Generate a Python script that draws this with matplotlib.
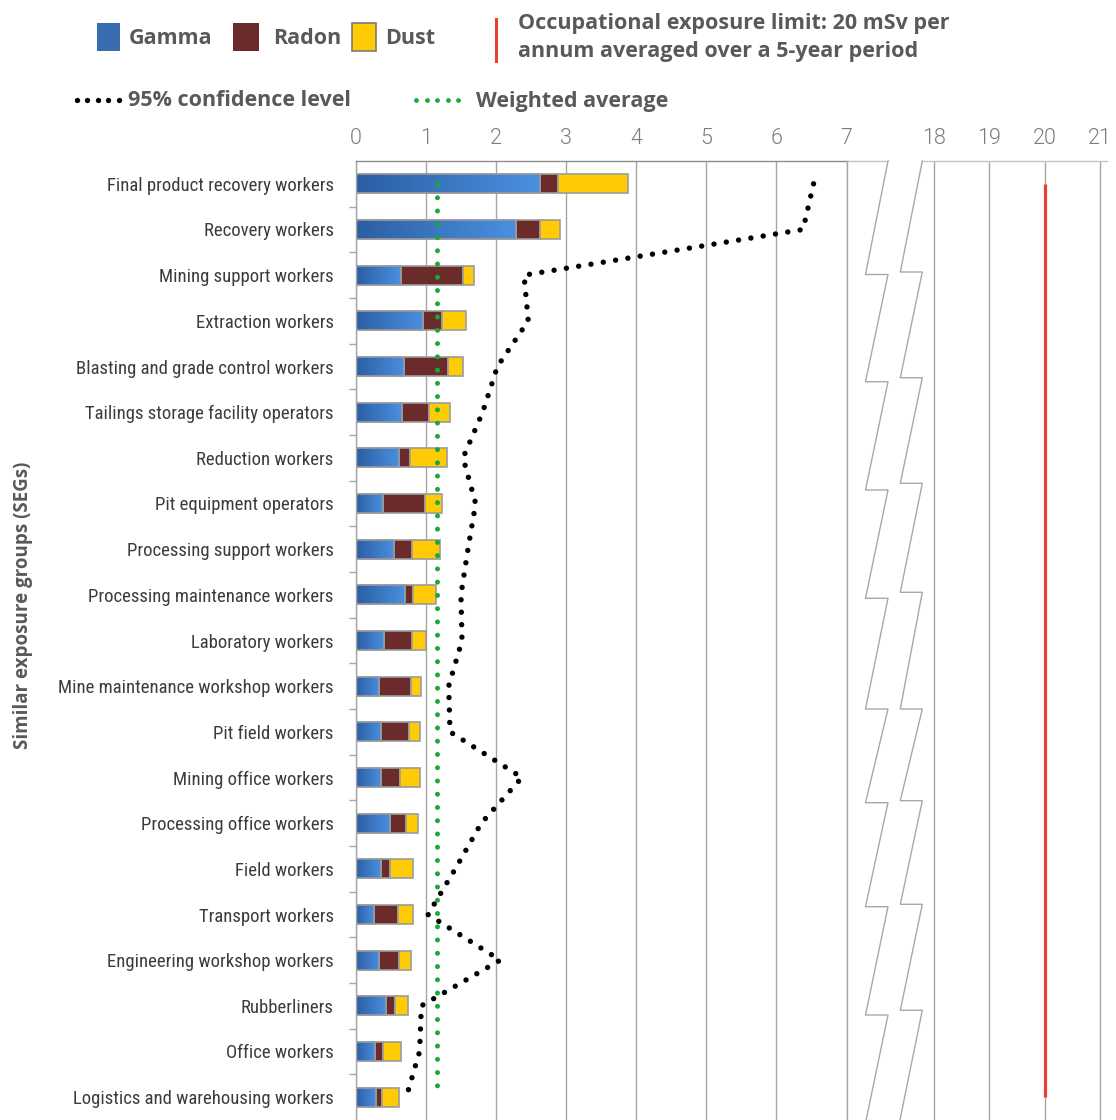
import numpy as np
import matplotlib
matplotlib.use("Agg")
import matplotlib.pyplot as plt
from matplotlib.lines import Line2D
from matplotlib.patches import Rectangle
from matplotlib.colors import LinearSegmentedColormap
from matplotlib import font_manager

plt.rcParams['font.family'] = ['Open Sans', 'DejaVu Sans']

# ---------------- data ----------------
categories = [
    "Final product recovery workers", "Recovery workers", "Mining support workers",
    "Extraction workers", "Blasting and grade control workers",
    "Tailings storage facility operators", "Reduction workers", "Pit equipment operators",
    "Processing support workers", "Processing maintenance workers", "Laboratory workers",
    "Mine maintenance workshop workers", "Pit field workers", "Mining office workers",
    "Processing office workers", "Field workers", "Transport workers",
    "Engineering workshop workers", "Rubberliners", "Office workers",
    "Logistics and warehousing workers",
]
gamma = [2.63, 2.28, 0.64, 0.955, 0.69, 0.655, 0.62, 0.384, 0.545, 0.70, 0.407,
         0.336, 0.364, 0.36, 0.49, 0.355, 0.26, 0.336, 0.436, 0.28, 0.29]
radon = [0.26, 0.35, 0.89, 0.27, 0.62, 0.385, 0.16, 0.60, 0.25, 0.12, 0.40,
         0.45, 0.40, 0.27, 0.22, 0.13, 0.34, 0.28, 0.12, 0.11, 0.09]
dust = [1.00, 0.29, 0.15, 0.35, 0.22, 0.30, 0.52, 0.25, 0.40, 0.33, 0.19,
        0.14, 0.15, 0.28, 0.18, 0.33, 0.21, 0.17, 0.19, 0.26, 0.24]
conf95 = [6.53, 6.38, 2.40, 2.46, 2.02, 1.81, 1.53, 1.71, 1.60, 1.50, 1.515,
          1.325, 1.344, 2.37, 1.79, 1.42, 1.03, 2.06, 0.935, 0.91, 0.72]
weighted_avg = 1.16
exposure_limit = 20
left_ticks = [0, 1, 2, 3, 4, 5, 6, 7]
right_ticks = [18, 19, 20, 21]

# ---------------- styles ----------------
W, H = 1116, 1120
C_GAMMA = '#3a6db0'
C_RADON = '#6b2b2b'
C_DUST = '#ffcb05'
C_EDGE = '#9c9c9c'
C_GRID = '#a6a6a6'
C_TEXT = '#595959'
C_RED = '#e8412f'
C_GREEN = '#1aa83a'

names = {}
for f in font_manager.fontManager.ttflist:
    names.setdefault(f.name, set()).add((str(f.stretch), f.weight))
label_family, label_stretch = ['DejaVu Sans'], 'normal'
for cand in ['Roboto Condensed', 'Liberation Sans Narrow', 'Open Sans Condensed',
             'Noto Sans Condensed', 'Arial Narrow']:
    if cand in names:
        label_family = [cand, 'DejaVu Sans']
        break
else:
    label_family = ['Liberation Sans', 'DejaVu Sans']

# light font for the numeric tick labels
tick_family, tick_weight = ['Lato', 'DejaVu Sans'], 'normal'
if 'Roboto' in names and any(w == 300 for _, w in names['Roboto']):
    tick_family, tick_weight = ['Roboto', 'DejaVu Sans'], 300

def fx(px):
    return px / W

def fy(py):
    return 1 - py / H

fig = plt.figure(figsize=(W / 100, H / 100), dpi=100)

n = len(categories)
y = np.arange(n)

ax = fig.add_axes([fx(355.8), 0, fx(846.5) - fx(355.8), fy(161)])
ax2 = fig.add_axes([fx(922), 0, fx(1107) - fx(922), fy(161)])

bh = 0.42
gamma_a = np.array(gamma)
radon_a = np.array(radon)
dust_a = np.array(dust)

b1 = ax.barh(y, gamma_a, height=bh, color=C_GAMMA, edgecolor=C_EDGE, lw=1.2, zorder=2)
ax.barh(y, radon_a, left=gamma_a, height=bh, color=C_RADON, edgecolor=C_EDGE, lw=1.2, zorder=2)
ax.barh(y, dust_a, left=gamma_a + radon_a, height=bh, color=C_DUST, edgecolor=C_EDGE, lw=1.2, zorder=2)

cmap = LinearSegmentedColormap.from_list('g', ['#2c5fa4', '#4a8fdf'])
grad = np.linspace(0, 1, 64).reshape(1, -1)
for rect, g, yy in zip(b1.patches, gamma_a, y):
    im = ax.imshow(grad, extent=[0, g, yy + bh / 2, yy - bh / 2], cmap=cmap,
                   aspect='auto', zorder=2.1, interpolation='bilinear')
    im.set_clip_path(rect)
    ax.add_patch(Rectangle((0, yy - bh / 2), g, bh, fill=False, edgecolor=C_EDGE,
                           lw=1.2, zorder=2.2))

ax.plot([weighted_avg, weighted_avg], [0, n - 1], color=C_GREEN, lw=3.6,
        linestyle=(0, (0.001, 2.65)), dash_capstyle='round', zorder=4)
ax.plot(conf95, y, color='black', lw=3.9, linestyle=(0, (0.001, 2.3)),
        dash_capstyle='round', zorder=5, clip_on=False)

ax.set_xlim(0, 7)
ax.set_ylim(n - 0.5, -0.5)
ax.set_xticks(left_ticks)
ax.xaxis.tick_top()
ax.grid(axis='x', color=C_GRID, lw=1.0)
ax.set_axisbelow(True)
ax.tick_params(axis='x', length=0, pad=9, labelsize=15.5, labelcolor='#7c7c7c')
for lab in ax.get_xticklabels():
    lab.set_family(tick_family)
    lab.set_fontweight(tick_weight)

ax.set_yticks(y)
ax.set_yticklabels(categories)
ax.tick_params(axis='y', which='major', length=0, pad=16, labelsize=15, labelcolor='#3c3c3c')
for lab in ax.get_yticklabels():
    lab.set_family(label_family)
    lab.set_fontstretch(label_stretch)
ax.set_yticks(np.arange(0.5, n - 1, 1), minor=True)
ax.tick_params(axis='y', which='minor', length=5, color=C_GRID, width=1)

ax.spines['bottom'].set_visible(False)
ax.spines['left'].set_color(C_GRID)
ax.spines['right'].set_color(C_GRID)
ax.spines['top'].set_color('#8c8c8c')
for s in ax.spines.values():
    s.set_linewidth(1.0)

ax2.set_xlim(17.773, 21.136)
ax2.set_ylim(n - 0.5, -0.5)
ax2.set_xticks(right_ticks)
ax2.xaxis.tick_top()
ax2.set_yticks([])
ax2.grid(axis='x', color=C_GRID, lw=1.0)
ax2.set_axisbelow(True)
ax2.tick_params(axis='x', length=0, pad=9, labelsize=15.5, labelcolor='#7c7c7c')
for lab in ax2.get_xticklabels():
    lab.set_family(tick_family)
    lab.set_fontweight(tick_weight)
for k in ['bottom', 'left', 'right']:
    ax2.spines[k].set_visible(False)
ax2.spines['top'].set_color('#c4c4c4')
ax2.spines['top'].set_linewidth(1.0)
ax2.plot([exposure_limit, exposure_limit], [0, n - 1], color=C_RED, lw=2.3,
         solid_capstyle='butt', zorder=3)

# fit category label size so the first label spans about 228 px
fig.canvas.draw()
renderer = fig.canvas.get_renderer()
lab0 = ax.get_yticklabels()[0]
wpx = lab0.get_window_extent(renderer).width
new_size = min(17.0, 15 * 228.0 / wpx)
for lab in ax.get_yticklabels():
    lab.set_fontsize(new_size)

# axis break decoration
fig.add_artist(Line2D([fx(846.5), fx(888)], [fy(161), fy(161)], color='#c4c4c4', lw=1.0))

def zigzag(x_hi, x_lo, corners, top=161, bottom=1120):
    xs, ys = [x_hi], [top]
    prev = top
    seg = 108.0
    for c in corners:
        xs += [x_lo, x_hi]
        ys += [c, c]
        prev = c
    xs.append(x_hi - (x_hi - x_lo) * (bottom - prev) / seg)
    ys.append(bottom)
    fig.add_artist(Line2D([fx(v) for v in xs], [fy(v) for v in ys], color='#a8a8a8', lw=1.0))

zigzag(888, 865.5, [274.5, 381.7, 490, 598.3, 709, 802.7, 906.7, 1015])
zigzag(922.3, 900.3, [272, 377.7, 483.3, 592.3, 709, 800.7, 904.3, 1010.3])

# legend
lfont = dict(fontsize=15.5, fontweight='bold', color=C_TEXT, va='center', ha='left')
fig.add_artist(Rectangle((fx(96.7), fy(50.7)), fx(120) - fx(96.7), fy(23) - fy(50.7),
                         transform=fig.transFigure, facecolor=C_GAMMA, edgecolor='none'))
fig.text(fx(129), fy(38.5), 'Gamma', **lfont)
fig.add_artist(Rectangle((fx(232.7), fy(50.7)), fx(259) - fx(232.7), fy(23) - fy(50.7),
                         transform=fig.transFigure, facecolor=C_RADON, edgecolor='none'))
fig.text(fx(272.7), fy(38.5), 'Radon', **lfont)
fig.add_artist(Rectangle((fx(352.3), fy(50.7)), fx(375.7) - fx(352.3), fy(23) - fy(50.7),
                         transform=fig.transFigure, facecolor=C_DUST, edgecolor='#7a7a7a', lw=1.2))
fig.text(fx(385), fy(38.5), 'Dust', **lfont)
fig.add_artist(Line2D([fx(496), fx(496)], [fy(19), fy(61)], color=C_RED, lw=2.2))
fig.text(fx(518), fy(23), 'Occupational exposure limit: 20 mSv per', **lfont)
fig.text(fx(518), fy(51), 'annum averaged over a 5-year period', **lfont)

fig.add_artist(Line2D([fx(v) for v in np.linspace(76.7, 119, 5)], [fy(100)] * 5, ls='none',
                      marker='o', ms=3.8, mfc='black', mec='none'))
fig.text(fx(128), fy(101), '95% confidence level', **lfont)
fig.add_artist(Line2D([fx(v) for v in np.linspace(416, 458, 5)], [fy(100)] * 5, ls='none',
                      marker='o', ms=3.4, mfc=C_GREEN, mec='none'))
fig.text(fx(476), fy(101), 'Weighted average', **lfont)

fig.text(fx(23), fy(605), 'Similar exposure groups (SEGs)', rotation=90, ha='center',
         va='center', fontsize=13.5, fontweight='bold', color=C_TEXT)

fig.savefig('out.png', dpi=100)
